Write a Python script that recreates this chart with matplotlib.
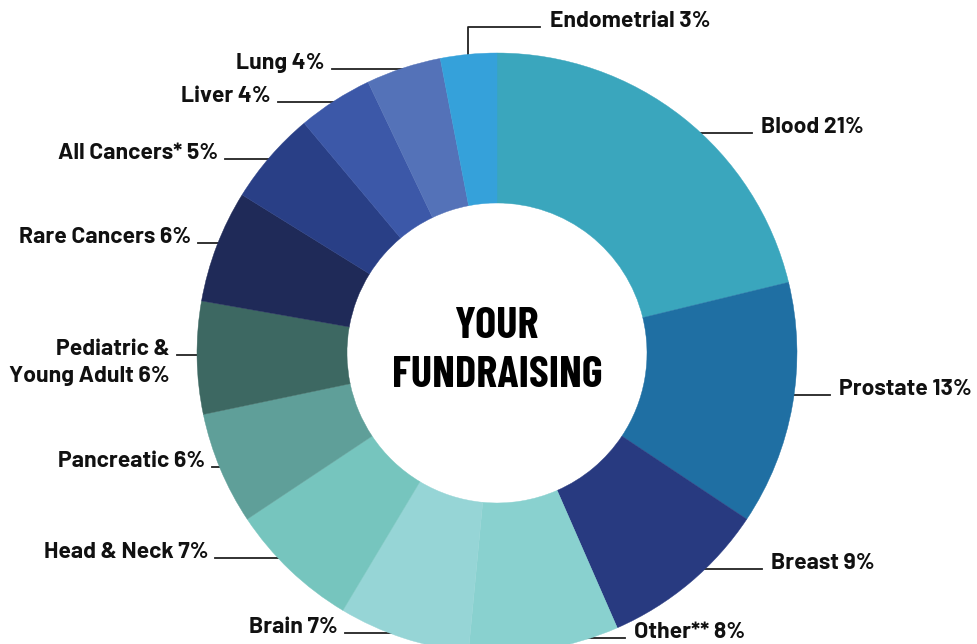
import numpy as np
import matplotlib.pyplot as plt

labels = ['Blood 21%', 'Prostate 13%', 'Breast 9%', 'Other** 8%', 'Brain 7%',
          'Head & Neck 7%', 'Pancreatic 6%', 'Pediatric &\nYoung Adult 6%',
          'Rare Cancers 6%', 'All Cancers* 5%', 'Liver 4%', 'Lung 4%',
          'Endometrial 3%']
values = [21, 13, 9, 8, 7, 7, 6, 6, 6, 5, 4, 4, 3]
colors = ['#3aa6bd', '#1f6fa3', '#283a80', '#89d1cf', '#96d5d6', '#76c5be',
          '#5f9f99', '#3d6862', '#1f2a58', '#293f86', '#3c58a8', '#5472b8',
          '#35a1da']

# leader lines, in pixels from the top-left: height and where the line stops
line_y = [133, 395, 569, 638, 633, 558, 467, 355, 243, 159, 102, 69, 27]
line_end_x = [752, 830, 762, 625, 345, 215, 212, 177, 198, 225, 278, 332, 540]

W, H = 978, 644
cx, cy, R = 497, H - 353, 300

fig = plt.figure(figsize=(W / 100, H / 100), dpi=100)
ax = fig.add_axes([0, 0, 1, 1])
wedges, _ = ax.pie(values, colors=colors, startangle=90, counterclock=False,
                   center=(cx, cy), radius=R,
                   wedgeprops=dict(width=R * 0.5, linewidth=0.3, zorder=2))
for w, c in zip(wedges, colors):
    w.set_edgecolor(c)  # hide the thin seams between slices
ax.set_xlim(0, W)
ax.set_ylim(0, H)
ax.set_aspect('equal')
ax.axis('off')

font = dict(family=['Barlow', 'Lato', 'DejaVu Sans'], weight='bold',
            fontsize=16.5, color='#111111')
for w, lab, ly, ex in zip(wedges, labels, line_y, line_end_x):
    ang = np.deg2rad((w.theta1 + w.theta2) / 2)
    y = H - ly
    if lab.startswith('Endometrial'):
        px = cx + R * np.cos(ang)
        top = cy + np.sqrt(R**2 - (px - cx)**2) - 10
        ax.plot([px, px, ex], [top, y, y], color='#222222', lw=1.3, zorder=1)
        ax.text(ex + 10, y, lab, ha='left', va='baseline', **font)
        continue
    # start a little inside the ring so the line seems to leave its edge
    half = np.sqrt(max(R**2 - (y - cy)**2, 0))
    side = np.sign(np.cos(ang))
    start = cx + side * (half - 10)
    ax.plot([start, ex], [y, y], color='#222222', lw=1.3, zorder=1)
    right = side > 0
    tx = ex + 9 if right else ex - 7
    for i, line in enumerate(lab.split('\n')):
        ax.text(tx, y - i * 27, line, ha='left' if right else 'right',
                va='baseline', **font)

center_font = dict(family=['Barlow Condensed', 'DejaVu Sans'],
                   stretch='condensed', weight='bold', fontsize=32,
                   color='black', ha='center', va='center')
ax.text(cx, H - 326, 'YOUR', **center_font)
ax.text(cx, H - 375, 'FUNDRAISING', **center_font)

plt.savefig('out.png', dpi=100)
plt.close()
